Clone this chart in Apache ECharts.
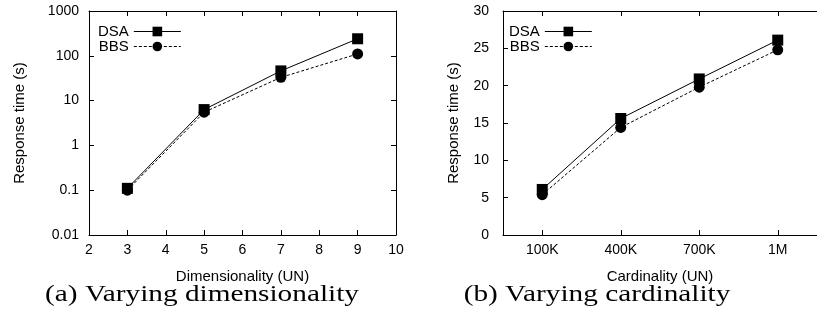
<!DOCTYPE html>
<html>
<head>
<meta charset="utf-8">
<title>Response time: DSA vs BBS</title>
<script src="https://cdn.jsdelivr.net/npm/echarts@6/dist/echarts.min.js"></script>
<style>
  html, body { margin: 0; padding: 0; background: #fff; }
  #chart { width: 817px; height: 322px; }
</style>
</head>
<body>
<div id="chart"></div>
<script>
// (a) varying dimensionality, log scale
const dimensions = [3, 5, 7, 9];
const dsaByDim = [0.11, 6.3, 46, 240];
const bbsByDim = [0.1, 5.5, 33, 110];

// (b) varying cardinality
const cardinalities = ['100K', '400K', '700K', '1M'];
const dsaByCard = [6.1, 15.6, 20.9, 26.1];
const bbsByCard = [5.4, 14.4, 19.8, 24.8];

const SANS = 'Liberation Sans, Arial, Helvetica, sans-serif';
const SERIF = 'Liberation Serif, Times New Roman, serif';
const ink = '#000';

const tick = {show: true, inside: true, length: 5, lineStyle: {color: ink, width: 1}};
const line = {show: true, lineStyle: {color: ink, width: 1}};
const label = {color: ink, fontFamily: SANS, fontSize: 14};
const nameStyle = {color: ink, fontFamily: SANS, fontSize: 15};

function legendAt(left) {
  return {
    left: left, top: 19, orient: 'vertical', align: 'right',
    itemWidth: 47, itemHeight: 12, itemGap: 0,
    textStyle: {color: ink, fontFamily: SANS, fontSize: 15},
    lineStyle: {width: 1},
    data: ['DSA', 'BBS'], selectedMode: false
  };
}

function makeSeries(name, xIdx, yIdx, data, dsa) {
  return {
    name: name, type: 'line', xAxisIndex: xIdx, yAxisIndex: yIdx,
    data: data,
    symbol: dsa ? 'rect' : 'circle', symbolSize: 11,
    itemStyle: {color: ink},
    lineStyle: {color: ink, width: 1, type: dsa ? 'solid' : [3, 2]},
    animation: false
  };
}

const chart = echarts.init(document.getElementById('chart'));
chart.setOption({
  backgroundColor: '#fff',
  animation: false,
  grid: [
    {left: 89, top: 11, width: 307, height: 224},
    {left: 503, top: 11, width: 323, height: 224}
  ],
  legend: [legendAt(93), legendAt(504)],
  xAxis: [
    {
      gridIndex: 0, type: 'value', min: 2, max: 10, interval: 1,
      axisLine: line, axisTick: tick, splitLine: {show: false},
      axisLabel: Object.assign({margin: 8}, label),
      name: 'Dimensionality (UN)', nameLocation: 'middle', nameGap: 34, nameTextStyle: nameStyle
    },
    {
      gridIndex: 0, type: 'value', min: 2, max: 10, interval: 1, position: 'top',
      axisLine: line, axisTick: tick, splitLine: {show: false}, axisLabel: {show: false}
    },
    {
      gridIndex: 1, type: 'category', data: cardinalities, boundaryGap: true,
      axisLine: line, axisTick: Object.assign({alignWithLabel: true}, tick), splitLine: {show: false},
      axisLabel: Object.assign({margin: 8}, label),
      name: 'Cardinality (UN)', nameLocation: 'middle', nameGap: 34, nameTextStyle: nameStyle
    },
    {
      gridIndex: 1, type: 'category', data: cardinalities, boundaryGap: true, position: 'top',
      axisLine: line, axisTick: Object.assign({alignWithLabel: true}, tick), splitLine: {show: false},
      axisLabel: {show: false}
    }
  ],
  yAxis: [
    {
      gridIndex: 0, type: 'log', logBase: 10, min: 0.01, max: 1000,
      axisLine: line, axisTick: tick, splitLine: {show: false},
      axisLabel: Object.assign({margin: 10, formatter: v => String(parseFloat(Number(v).toPrecision(2)))}, label),
      name: 'Response time (s)', nameLocation: 'middle', nameGap: 62, nameTextStyle: nameStyle
    },
    {
      gridIndex: 0, type: 'log', logBase: 10, min: 0.01, max: 1000, position: 'right',
      axisLine: line, axisTick: tick, splitLine: {show: false}, axisLabel: {show: false}
    },
    {
      gridIndex: 1, type: 'value', min: 0, max: 30, interval: 5,
      axisLine: line, axisTick: tick, splitLine: {show: false},
      axisLabel: Object.assign({margin: 14}, label),
      name: 'Response time (s)', nameLocation: 'middle', nameGap: 42, nameTextStyle: nameStyle
    }
  ],
  series: [
    makeSeries('DSA', 0, 0, dimensions.map((d, i) => [d, dsaByDim[i]]), true),
    makeSeries('BBS', 0, 0, dimensions.map((d, i) => [d, bbsByDim[i]]), false),
    makeSeries('DSA', 2, 2, dsaByCard, true),
    makeSeries('BBS', 2, 2, bbsByCard, false)
  ],
  // figure captions, typeset wider like the Computer Modern originals
  graphic: [
    {type: 'text', x: 202, y: 295, scaleX: 1.22, style: {text: '(a) Varying dimensionality', font: '24px ' + SERIF, fill: ink, textAlign: 'center', textVerticalAlign: 'middle'}},
    {type: 'text', x: 597, y: 295, scaleX: 1.22, style: {text: '(b) Varying cardinality', font: '24px ' + SERIF, fill: ink, textAlign: 'center', textVerticalAlign: 'middle'}}
  ]
});
</script>
</body>
</html>
